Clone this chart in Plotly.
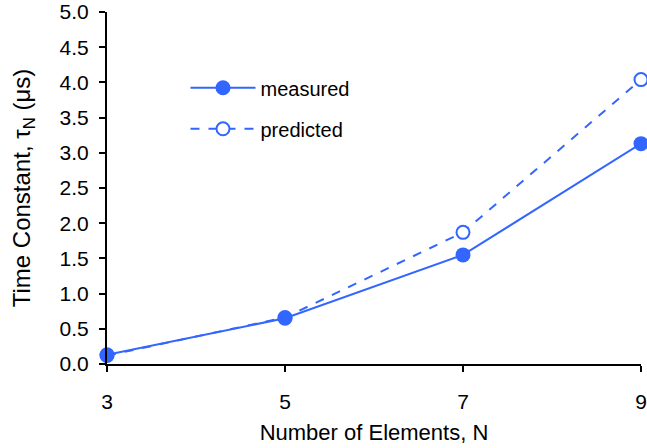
import plotly.graph_objects as go

n_elements = [3, 5, 7, 9]
measured = [0.13, 0.65, 1.55, 3.13]
predicted = [0.12, 0.66, 1.87, 4.04]
y_ticks = [0.0, 0.5, 1.0, 1.5, 2.0, 2.5, 3.0, 3.5, 4.0, 4.5, 5.0]

blue = "#3366ff"
fig = go.Figure()
fig.add_trace(go.Scatter(x=n_elements, y=predicted, name="predicted", mode="lines+markers",
                         line=dict(color=blue, width=2, dash="dash"),
                         marker=dict(size=13, color="white", symbol="circle", line=dict(color=blue, width=2)),
                         cliponaxis=False, legendgroup="b", legendrank=2))
fig.add_trace(go.Scatter(x=n_elements, y=measured, name="measured", mode="lines+markers",
                         line=dict(color=blue, width=2),
                         marker=dict(size=15, color=blue, symbol="circle"),
                         cliponaxis=False, legendgroup="a", legendrank=1))

font = "Liberation Sans, Arial, sans-serif"
fig.update_layout(
    width=647, height=448,
    margin=dict(l=107, r=6, t=12, b=84),
    paper_bgcolor="white", plot_bgcolor="white",
    font=dict(family=font, color="black"),
    showlegend=True,
    legend=dict(x=0.147, y=0.84, xanchor="left", yanchor="top", font=dict(size=20),
                tracegroupgap=12, itemwidth=65, bgcolor="rgba(0,0,0,0)"),
    xaxis=dict(range=[3, 9], tickvals=n_elements, showgrid=False, zeroline=False,
               showline=True, linecolor="black", linewidth=2, ticks="outside",
               ticklen=6, tickwidth=1.5, tickcolor="black", tickfont=dict(size=21),
               ticklabelstandoff=12, ticklabeloverflow="allow", automargin=False,
               title=dict(text="Number of Elements, N", font=dict(size=22), standoff=12)),
    yaxis=dict(range=[0, 5], tickvals=y_ticks, ticktext=[f"{v:.1f}" for v in y_ticks],
               showgrid=False, zeroline=False, showline=True, linecolor="black", linewidth=2,
               ticks="outside", ticklen=6, tickwidth=1.5, tickcolor="black",
               tickfont=dict(size=21), ticklabelstandoff=6, ticklabeloverflow="allow",
               automargin=False,
               title=dict(text="Time Constant, τ<sub>N</sub> (μs)", font=dict(size=24), standoff=22)),
)
fig.write_html("out.html")
